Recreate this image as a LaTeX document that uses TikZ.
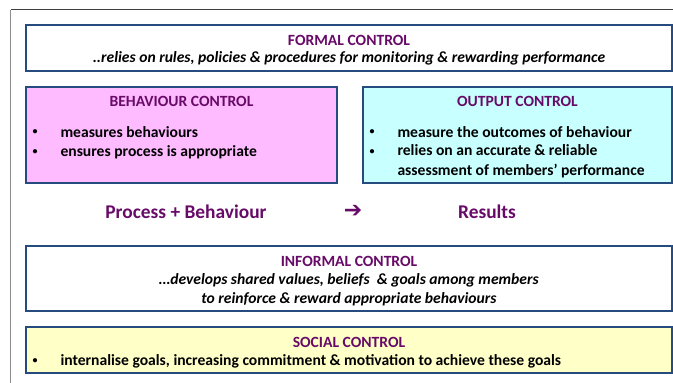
\documentclass[tikz,border=0pt]{standalone}
\usepackage{fontspec}
\setmainfont{Carlito}
\newfontfamily\arrowfont{DejaVu Sans}
\definecolor{boxblue}{HTML}{264B7F}
\definecolor{titlepurple}{HTML}{680A68}
\definecolor{pinkfill}{HTML}{FFBBFF}
\definecolor{cyanfill}{HTML}{C8FFFF}
\definecolor{yellowfill}{HTML}{FFFFC8}

\tikzset{
	panel/.style={draw=boxblue, line width=2.4pt, inner sep=0pt},
	title/.style={font=\fontsize{15.6}{16}\bfseries, text=titlepurple},
	body/.style={font=\fontsize{15.6}{19.5}\bfseries, anchor=west},
	dot/.style={font=\fontsize{10}{10}\bfseries},
	slant/.style={font=\fontsize{15.6}{18.5}\bfseries\itshape, align=center},
	big/.style={font=\fontsize{19.4}{20}\bfseries, text=titlepurple},
}

\begin{document}
\begin{tikzpicture}[x=1pt, y=-1pt]
	\useasboundingbox (0,0) rectangle (673,383);
	% outer frame
	\coordinate (tr) at (673, 9.5);
	\coordinate (tl) at (10.5, 9.5);
	\coordinate (bl) at (10.5, 383);
	\draw[line width=1.5pt, black!75] (tr)--(tl);
	\draw[line width=1.5pt, black!45] (tl)--(bl);

	% formal control
	\node[panel, fill=white, minimum width=646pt, minimum height=46pt] (formal) at (349, 48) {};
	\node[title] (formalt) at (349, 40) {FORMAL CONTROL};
	\node[slant] (formalx) at (349, 58) {..relies on rules, policies \& procedures for monitoring \& rewarding performance};

	% behaviour / output
	\node[panel, fill=pinkfill, minimum width=311pt, minimum height=96pt] (beh) at (181.5, 135) {};
	\node[title] (beht) at (181.5, 101) {BEHAVIOUR CONTROL};
	\node[dot] (beh1) at (35, 132) {•};
	\node[body] (beh1x) at (57, 132) {measures behaviours};
	\node[dot] (beh2) at (35, 152) {•};
	\node[body] (beh2x) at (57, 152) {ensures process is appropriate};

	\node[panel, fill=cyanfill, minimum width=309pt, minimum height=96pt] (out) at (517.5, 135) {};
	\node[title] (outt) at (517.5, 101) {OUTPUT CONTROL};
	\node[dot] (out1) at (372, 132) {•};
	\node[body] (out1x) at (394, 132) {measure the outcomes of behaviour};
	\node[dot] (out2) at (372, 152) {•};
	\node[body, align=left] (out2x) at (394, 161.5) {relies on an accurate \& reliable\\assessment of members’ performance};

	\node[big] (proc) at (186, 212) {Process + Behaviour};
	\node[text=titlepurple, font=\arrowfont\fontsize{22}{22}\selectfont] (arrow) at (353, 211) {➔};
	\node[big] (res) at (487, 212) {Results};

	% informal control
	\node[panel, fill=white, minimum width=646pt, minimum height=65pt] (inf) at (349, 278.5) {};
	\node[title] (inft) at (349, 261) {INFORMAL CONTROL};
	\node[slant] (infx) at (349, 290) {…develops shared values, beliefs\ \ \& goals among members\\to reinforce \& reward appropriate behaviours};

	% social control
	\node[panel, fill=yellowfill, minimum width=646pt, minimum height=46pt] (soc) at (349, 350) {};
	\node[title] (soct) at (349, 342) {SOCIAL CONTROL};
	\node[dot] (soc1) at (35, 361) {•};
	\node[body] (soc1x) at (57, 361) {internalise goals, increasing commitment \& motivation to achieve these goals};
\end{tikzpicture}
\end{document}
